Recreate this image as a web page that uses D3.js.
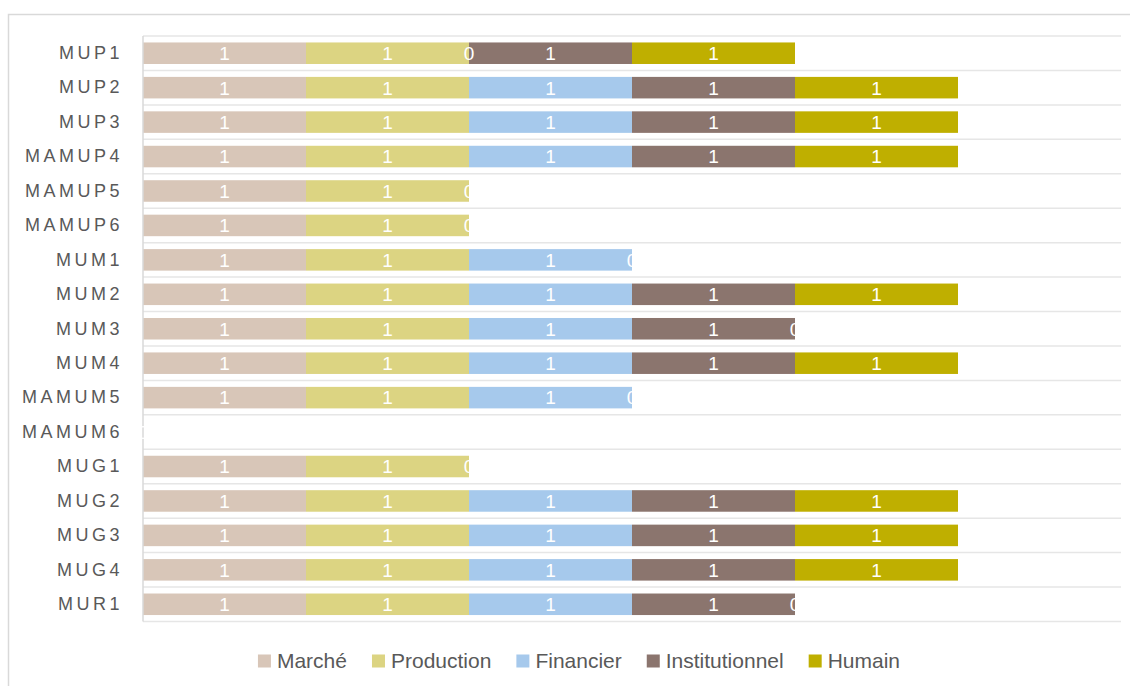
<!DOCTYPE html>
<html>
<head>
<meta charset="utf-8">
<script src="https://cdn.jsdelivr.net/npm/d3@7"></script>
<style>
  body { margin: 0; background: #fff; font-family: "Liberation Sans", Arial, sans-serif; }
  .cat text { fill: #595959; font-size: 18px; letter-spacing: 3.5px; }
  .lbl { fill: #fff; font-size: 19px; }
  .legend text { fill: #595959; font-size: 21px; }
</style>
</head>
<body>
<script>
const categories = ['MUP1', 'MUP2', 'MUP3', 'MAMUP4', 'MAMUP5', 'MAMUP6', 'MUM1', 'MUM2', 'MUM3', 'MUM4',
  'MAMUM5', 'MAMUM6', 'MUG1', 'MUG2', 'MUG3', 'MUG4', 'MUR1'];
const seriesNames = ['Marché', 'Production', 'Financier', 'Institutionnel', 'Humain'];
const marche =         [1, 1, 1, 1, 1, 1, 1, 1, 1, 1, 1, 0, 1, 1, 1, 1, 1];
const production =     [1, 1, 1, 1, 1, 1, 1, 1, 1, 1, 1, null, 1, 1, 1, 1, 1];
const financier =      [0, 1, 1, 1, 0, 0, 1, 1, 1, 1, 1, null, 0, 1, 1, 1, 1];
const institutionnel = [1, 1, 1, 1, null, null, 0, 1, 1, 1, 0, null, null, 1, 1, 1, 1];
const humain =         [1, 1, 1, 1, null, null, null, 1, 0, 1, null, null, null, 1, 1, 1, 0];
const colors = ['#D8C6B8', '#DCD482', '#A6C9EC', '#8B756E', '#BFAF00'];

const seriesValues = [marche, production, financier, institutionnel, humain];

const width = 1130, height = 686;
const margin = { top: 36, right: 9, bottom: 64.5, left: 143 };

const svg = d3.select('body').append('svg')
  .attr('width', width).attr('height', height);

// outer frame
svg.append('rect')
  .attr('x', 8.5).attr('y', 14.5)
  .attr('width', width).attr('height', height)
  .attr('fill', 'none').attr('stroke', '#d9d9d9').attr('stroke-width', 1.5);

const x = d3.scaleLinear().domain([0, 6])
  .range([margin.left, width - margin.right]);

const y = d3.scaleBand().domain(categories)
  .range([margin.top, height - margin.bottom])
  .paddingInner(0.375).paddingOuter(0.1875);

const step = y.step();
const top0 = y(categories[0]) - y.paddingOuter() * step;

// gridlines at category boundaries
svg.append('g').selectAll('line')
  .data(d3.range(categories.length + 1))
  .join('line')
  .attr('x1', x(0)).attr('x2', x(6))
  .attr('y1', i => top0 + i * step).attr('y2', i => top0 + i * step)
  .attr('stroke', '#e6e6e6').attr('stroke-width', 1.5);

// stacked segments
const rows = categories.map((c, i) => {
  let acc = 0;
  return seriesNames.map((s, k) => {
    const v = seriesValues[k][i];
    const x0 = acc;
    if (v != null) acc += v;
    return { cat: c, key: s, k: k, value: v, x0: x0, x1: acc };
  }).filter(d => d.value != null);
});
const segs = rows.flat();

svg.append('g').selectAll('rect')
  .data(segs.filter(d => d.value > 0))
  .join('rect')
  .attr('x', d => x(d.x0))
  .attr('y', d => y(d.cat))
  .attr('width', d => x(d.x1) - x(d.x0))
  .attr('height', y.bandwidth())
  .attr('fill', d => colors[d.k]);

// left axis line
svg.append('line')
  .attr('x1', x(0)).attr('x2', x(0))
  .attr('y1', top0).attr('y2', top0 + categories.length * step)
  .attr('stroke', '#d9d9d9').attr('stroke-width', 1.5);

// category labels
const yAxis = d3.axisLeft(y).tickSize(0).tickPadding(0);
svg.append('g')
  .attr('class', 'cat')
  .attr('transform', `translate(${x(0) - 20},0)`)
  .call(yAxis)
  .call(g => g.select('.domain').remove())
  .call(g => g.selectAll('text').attr('font-family', null).attr('font-size', null));

// value labels
svg.append('g').selectAll('text')
  .data(segs)
  .join('text')
  .attr('class', 'lbl')
  .attr('x', d => x((d.x0 + d.x1) / 2))
  .attr('y', d => y(d.cat) + y.bandwidth() / 2)
  .attr('dy', '0.36em')
  .attr('text-anchor', 'middle')
  .text(d => d.value);

// legend
const legend = svg.append('g').attr('class', 'legend');
const items = legend.selectAll('g').data(seriesNames).join('g');
items.append('rect')
  .attr('width', 13).attr('height', 13)
  .attr('y', -6.5)
  .attr('fill', (d, i) => colors[i]);
items.append('text')
  .attr('x', 19).attr('dy', '0.35em')
  .text(d => d);
let cx = 0;
const offs = [];
items.each(function (d) {
  const w = 19 + this.querySelector('text').getComputedTextLength();
  offs.push(cx);
  cx += w + 25;
});
const total = cx - 25;
const lx = 579 - total / 2;
items.attr('transform', (d, i) => `translate(${lx + offs[i]},661)`);
</script>
</body>
</html>
